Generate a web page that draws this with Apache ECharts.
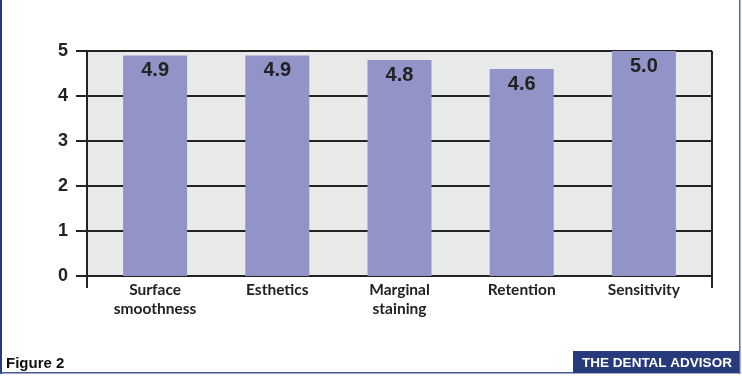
<!DOCTYPE html>
<html>
<head>
<meta charset="utf-8">
<script src="https://cdn.jsdelivr.net/npm/echarts@6/dist/echarts.min.js"></script>
<style>
  html, body { margin: 0; padding: 0; background: #ffffff; }
  #chart { width: 742px; height: 381px; }
</style>
</head>
<body>
<div id="chart"></div>
<script>
// Mean ratings per evaluated property (scale 0–5)
const categories = ['Surface\nsmoothness', 'Esthetics', 'Marginal\nstaining', 'Retention', 'Sensitivity'];
const ratings = [4.9, 4.9, 4.8, 4.6, 5.0];
const yTicks = [0, 1, 2, 3, 4, 5];

const INK = '#222222';
const NAVY = '#263a7c';

const chart = echarts.init(document.getElementById('chart'), null, { renderer: 'canvas' });

chart.setOption({
  backgroundColor: '#ffffff',
  animation: false,
  grid: [
    // framed plot area with grey background
    { left: 87, right: 30, top: 51, bottom: 105, show: true, backgroundColor: '#e8e9e9', borderWidth: 0 },
    // bar area, slightly inset inside the frame
    { left: 94, right: 37, top: 51, bottom: 105 }
  ],
  xAxis: [
    {
      gridIndex: 0, type: 'value', min: 0, max: 1, interval: 1,
      axisLine: { show: true, lineStyle: { color: INK, width: 2 } },
      axisTick: { show: true, length: 12, lineStyle: { color: INK, width: 2 } },
      axisLabel: { show: false },
      splitLine: { show: true, lineStyle: { color: INK, width: 2 } }
    },
    {
      gridIndex: 1, type: 'category', data: categories,
      axisLine: { show: false }, axisTick: { show: false },
      axisLabel: {
        margin: 5, color: INK, fontSize: 15.5, fontWeight: 'bold',
        fontFamily: 'Lato, "Liberation Sans", sans-serif', lineHeight: 18.5, interval: 0
      }
    }
  ],
  yAxis: [
    {
      gridIndex: 0, type: 'value', min: yTicks[0], max: yTicks[yTicks.length - 1], interval: 1,
      axisLine: { show: true, lineStyle: { color: INK, width: 2 } },
      axisTick: { show: true, length: 11, lineStyle: { color: INK, width: 2 } },
      axisLabel: {
        margin: 19, color: INK, fontSize: 18, fontWeight: 'bold',
        fontFamily: '"Liberation Sans", Arial, sans-serif'
      },
      splitLine: { show: true, lineStyle: { color: INK, width: 2 } }
    },
    {
      gridIndex: 1, type: 'value', min: 0, max: 5, interval: 1,
      axisLine: { show: false }, axisTick: { show: false },
      axisLabel: { show: false }, splitLine: { show: false }
    }
  ],
  series: [{
    type: 'bar',
    xAxisIndex: 1, yAxisIndex: 1,
    data: ratings,
    barWidth: 64,
    itemStyle: { color: '#9293c6' },
    label: {
      show: true, position: 'insideTop', distance: 5,
      color: INK, fontSize: 20, fontWeight: 'bold',
      fontFamily: '"Liberation Sans", Arial, sans-serif',
      formatter: p => p.value.toFixed(1)
    }
  }],
  graphic: [
    // page border
    { type: 'rect', shape: { x: 0, y: 0, width: 2, height: 374 }, style: { fill: NAVY }, silent: true },
    { type: 'rect', shape: { x: 739, y: 0, width: 1.5, height: 374 }, style: { fill: '#5d64a2' }, silent: true },
    { type: 'rect', shape: { x: 0, y: 372, width: 740, height: 1.5 }, style: { fill: '#4a5894' }, silent: true },
    // caption
    {
      type: 'text', left: 6, top: 356,
      style: { text: 'Figure 2', fill: '#111111', font: 'bold 15px "Liberation Sans", Arial, sans-serif' }
    },
    // publisher tag
    { type: 'rect', shape: { x: 573, y: 351, width: 166, height: 22 }, style: { fill: NAVY }, silent: true },
    {
      type: 'text', x: 657, y: 363,
      style: {
        text: 'THE DENTAL ADVISOR', fill: '#ffffff', align: 'center', verticalAlign: 'middle',
        font: 'bold 13.5px "Liberation Sans", Arial, sans-serif'
      }
    }
  ]
});
</script>
</body>
</html>
